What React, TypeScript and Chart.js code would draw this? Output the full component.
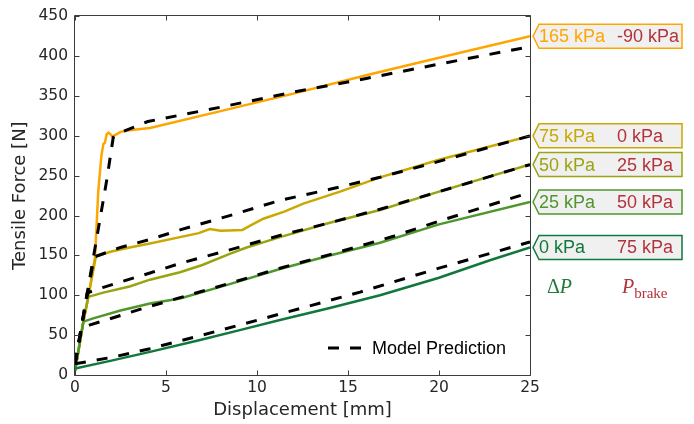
import React, { useEffect, useRef } from 'react';
import { Chart, registerables } from 'chart.js';

Chart.register(...registerables);

type Pt = [number, number];

// Experimental curves (solid)
const exp165: Pt[] = [[0,5],[0.46,67],[0.73,98],[1.1,148],[1.28,231],[1.45,275],[1.56,290],[1.64,291],[1.74,302],[1.85,304],[1.95,302],[2.05,299],[2.2,301],[2.5,305],[3,307],[4.12,310],[8,331],[12,353],[16,376],[20,398],[25,425]];
const exp75: Pt[] = [[0,5],[0.46,67],[0.73,98],[1.15,149],[2,155],[3,160],[4.12,165],[5.77,173],[6.8,178],[7.4,183],[8,181],[9.2,182],[9.6,187],[10.35,196],[11.5,205],[12.55,215],[14.56,230],[16.76,248],[20,270],[25,300]];
const exp50: Pt[] = [[0,5],[0.46,67],[0.73,98],[1.5,103],[3,111],[4.12,119.6],[5.77,129],[7,138],[8.5,152],[9.43,160],[11.26,173],[14,191],[16.76,207],[20,230],[25,264]];
const exp25: Pt[] = [[0,5],[0.46,67],[1,71],[2.5,81],[4.12,89.6],[5.77,96],[8.5,114],[11.26,133],[14,150],[16.76,166],[20,189],[25,217]];
const exp0: Pt[] = [[0,8],[2,18],[4.12,29],[6.87,44],[9,56],[11.26,69],[14,84],[16.76,100],[20,122],[22.8,144],[25,160]];

// Model predictions (dashed)
const model165: Pt[] = [[0,14],[1.74,244],[2.1,298],[2.6,305],[4,318],[8,336],[11.8,354],[16,372],[20,390],[25,412]];
const model75: Pt[] = [[0,14],[1.05,148],[2.5,160],[4.12,170],[5.77,182],[8.5,200],[11.26,219],[14,233],[16.76,248],[20,268],[25,300]];
const model50: Pt[] = [[0,14],[0.67,103],[1.56,110],[4.12,128],[5.77,140],[8.5,157],[11.26,175],[14,191],[16.76,208],[20,230],[25,264]];
const model25: Pt[] = [[0,14],[0.35,58],[0.79,62.5],[3.66,83],[5.77,97],[8.5,115],[11.26,134],[14,151],[17.5,174],[20,193],[25,229]];
const model0: Pt[] = [[0,14],[2,22],[4.12,33],[7,50],[10.7,73],[15.66,104],[20,134],[25,167]];

const deltaPLabels = ['165 kPa', '75 kPa', '50 kPa', '25 kPa', '0 kPa'];
const brakeLabels = ['-90 kPa', '0 kPa', '25 kPa', '50 kPa', '75 kPa'];
const seriesColors = ['#ffa500', '#c9a800', '#9aa412', '#4f962c', '#0f783c'];
const brakeColor = '#b3323b';
const deltaPColor = '#1d7a3c';
const legendLabel = 'Model Prediction';
const xTitle = 'Displacement [mm]';
const yTitle = 'Tensile Force [N]';
const xTicks = [0, 5, 10, 15, 20, 25];
const yTicks = [0, 50, 100, 150, 200, 250, 300, 350, 400, 450];

const solids = [exp165, exp75, exp50, exp25, exp0];
const models = [model165, model75, model50, model25, model0];

const toXY = (arr: Pt[]) => arr.map(([x, y]) => ({ x, y }));

const annotPlugin = {
  id: 'annot',
  afterDraw(chart: any) {
    const { ctx, chartArea } = chart;
    const xs = chart.scales.x;
    const ys = chart.scales.y;
    const L = Math.round(chartArea.left) - 0.5;
    const R = Math.round(chartArea.right) + 0.5;
    const T = Math.round(chartArea.top) - 0.5;
    const B = Math.round(chartArea.bottom) + 0.5;
    ctx.save();
    // axes box
    ctx.strokeStyle = '#3c3c3c';
    ctx.lineWidth = 1;
    ctx.beginPath();
    ctx.rect(L, T, R - L, B - T);
    xTicks.forEach((v) => {
      const px = Math.round(xs.getPixelForValue(v)) + 0.5;
      ctx.moveTo(px, B); ctx.lineTo(px, B - 5);
      ctx.moveTo(px, T); ctx.lineTo(px, T + 5);
    });
    yTicks.forEach((v) => {
      const py = Math.round(ys.getPixelForValue(v)) + 0.5;
      ctx.moveTo(L, py); ctx.lineTo(L + 5, py);
      ctx.moveTo(R, py); ctx.lineTo(R - 5, py);
    });
    ctx.stroke();

    // legend
    ctx.strokeStyle = '#000';
    ctx.lineWidth = 3;
    ctx.setLineDash([11, 11]);
    ctx.beginPath();
    ctx.moveTo(328, 348); ctx.lineTo(363, 348);
    ctx.stroke();
    ctx.setLineDash([]);
    ctx.fillStyle = '#000';
    ctx.font = '18px "Liberation Sans", Arial, sans-serif';
    ctx.textBaseline = 'middle';
    ctx.textAlign = 'left';
    ctx.fillText(legendLabel, 372, 349);

    // right-side labels
    solids.forEach((s, i) => {
      const y = ys.getPixelForValue(s[s.length - 1][1]);
      const tip = chartArea.right + 3;
      const bx = tip + 6;
      const rx = 682;
      const h = 12;
      ctx.beginPath();
      ctx.moveTo(tip, y);
      ctx.lineTo(bx, y - h);
      ctx.lineTo(rx, y - h);
      ctx.lineTo(rx, y + h);
      ctx.lineTo(bx, y + h);
      ctx.closePath();
      ctx.fillStyle = '#f0f0f0';
      ctx.fill();
      ctx.strokeStyle = seriesColors[i];
      ctx.lineWidth = 1.5;
      ctx.stroke();
      ctx.font = '18px "Liberation Sans", Arial, sans-serif';
      ctx.fillStyle = seriesColors[i];
      ctx.fillText(deltaPLabels[i], 539, y + 1);
      ctx.fillStyle = brakeColor;
      ctx.fillText(brakeLabels[i], 617, y + 1);
    });

    // ΔP and P_brake
    ctx.textBaseline = 'alphabetic';
    ctx.fillStyle = deltaPColor;
    ctx.font = '20px "Liberation Serif", "Times New Roman", serif';
    ctx.fillText('Δ', 547, 293);
    const dw = ctx.measureText('Δ').width;
    ctx.font = 'italic 20px "Liberation Serif", "Times New Roman", serif';
    ctx.fillText('P', 547 + dw, 293);
    ctx.fillStyle = brakeColor;
    ctx.fillText('P', 622, 293);
    const pw = ctx.measureText('P').width;
    ctx.font = '15px "Liberation Serif", "Times New Roman", serif';
    ctx.fillText('brake', 622 + pw, 298);
    ctx.restore();
  },
};

export default function App() {
  const ref = useRef<HTMLCanvasElement | null>(null);
  useEffect(() => {
    if (!ref.current) return;
    const datasets: any[] = [];
    models.forEach((m) => {
      datasets.push({
        data: toXY(m),
        borderColor: '#000',
        borderWidth: 3,
        borderDash: [11, 11],
        pointRadius: 0,
        fill: false,
        tension: 0,
        order: 0,
      });
    });
    solids.forEach((s, i) => {
      datasets.push({
        data: toXY(s),
        borderColor: seriesColors[i],
        borderWidth: 2.5,
        pointRadius: 0,
        fill: false,
        tension: 0,
        order: 1 + (solids.length - i),
      });
    });
    const tickFont = { family: '"DejaVu Sans", Verdana, sans-serif', size: 15.5 };
    const titleFont = { family: '"DejaVu Sans", Verdana, sans-serif', size: 18 };
    const chart = new Chart(ref.current, {
      type: 'line',
      data: { datasets },
      options: {
        animation: false,
        responsive: false,
        devicePixelRatio: 1,
        layout: { padding: { left: 0, top: 15, right: 164, bottom: 0 } },
        plugins: { legend: { display: false }, tooltip: { enabled: false } },
        scales: {
          x: {
            type: 'linear',
            min: 0,
            max: 25,
            grid: { display: false, drawTicks: false },
            border: { display: false },
            ticks: { stepSize: 5, color: '#262626', font: tickFont, padding: 4, maxRotation: 0 },
            title: { display: true, text: xTitle, color: '#262626', font: titleFont, padding: { top: 0, bottom: 3 } },
            afterFit: (s: any) => { s.height = 49; },
          },
          y: {
            type: 'linear',
            min: 0,
            max: 450,
            grid: { display: false, drawTicks: false },
            border: { display: false },
            ticks: { stepSize: 50, color: '#262626', font: tickFont, padding: 7 },
            title: { display: true, text: yTitle, color: '#262626', font: titleFont, padding: { top: 10, bottom: 0 } },
            afterFit: (s: any) => { s.width = 75; },
          },
        },
      } as any,
      plugins: [annotPlugin],
    });
    return () => chart.destroy();
  }, []);
  return (
    <div style={{ position: 'absolute', left: 0, top: 0, width: 694, height: 424, background: '#fff' }}>
      <canvas ref={ref} width={694} height={424} />
    </div>
  );
}
